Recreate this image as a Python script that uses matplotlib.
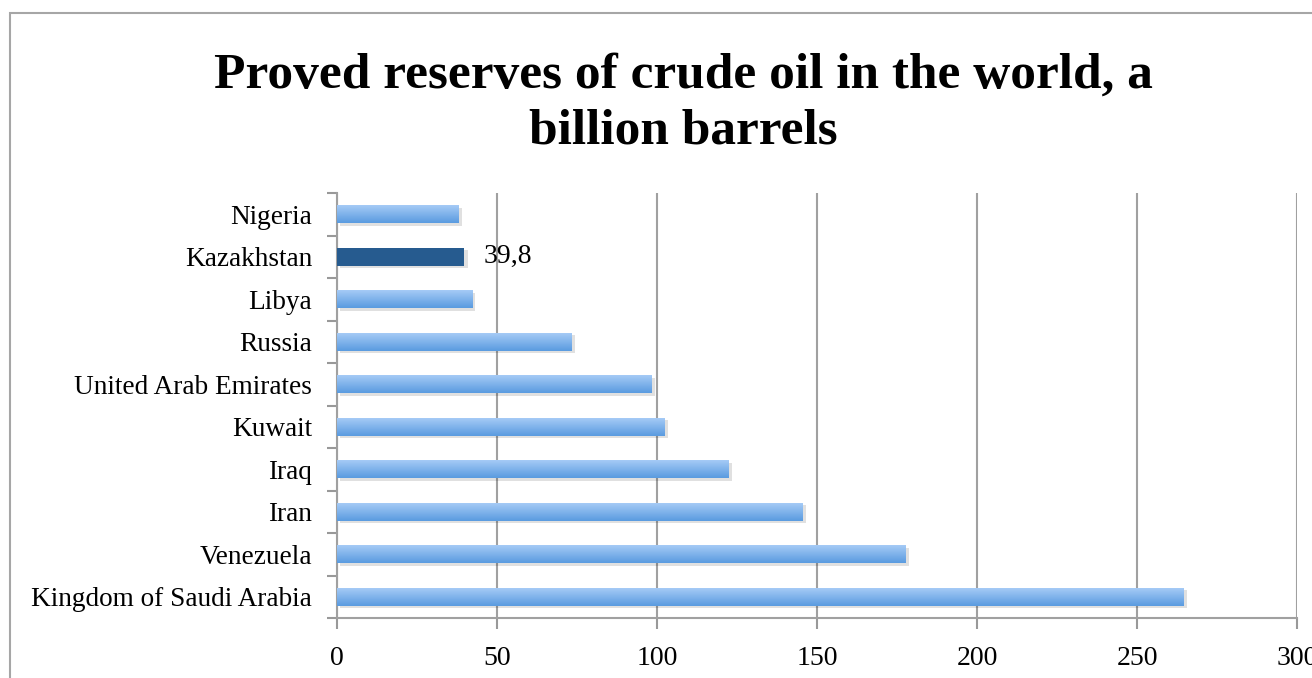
import numpy as np
import matplotlib.pyplot as plt
from matplotlib.patches import Rectangle
from matplotlib.colors import LinearSegmentedColormap

# dados do grafico (de baixo para cima)
paises = ["Kingdom of Saudi Arabia", "Venezuela", "Iran", "Iraq", "Kuwait",
          "United Arab Emirates", "Russia", "Libya", "Kazakhstan", "Nigeria"]
reservas = [264.5, 177.8, 145.6, 122.5, 102.5, 98.4, 73.3, 42.2, 39.8, 38.0]
destaque = "Kazakhstan"
rotulo_destaque = "39,8"
ticks_x = [0, 50, 100, 150, 200, 250, 300]

plt.rcParams['font.family'] = ['Liberation Serif', 'DejaVu Serif']

fig = plt.figure(figsize=(13.12, 6.78), dpi=100)
ax = fig.add_axes([337 / 1312, 60 / 678, 960 / 1312, 425 / 678])

# moldura cinza do grafico (continua fora da imagem)
fig.patches.append(Rectangle((10 / 1312, -0.1), 1.2, 1 - 13 / 678 + 0.1,
                             transform=fig.transFigure, fill=False,
                             edgecolor="#a6a6a6", linewidth=1.5, zorder=0))

y = np.arange(len(paises))
largura = 0.43

# sombra das barras
ax.barh(y - 0.06, reservas, height=largura, left=1.0, color="#000000",
        alpha=0.12, zorder=2, linewidth=0)

barras = ax.barh(y, reservas, height=largura, color="none", zorder=3, linewidth=0)

gradiente = LinearSegmentedColormap.from_list("azul", ["#5a9be0", "#a9cdf7"])
grad = np.linspace(0, 1, 64).reshape(-1, 1)

for barra, pais in zip(barras, paises):
    x0, y0 = barra.get_x(), barra.get_y()
    w, h = barra.get_width(), barra.get_height()
    if pais == destaque:
        barra.set_facecolor("#265b8f")
    else:
        im = ax.imshow(grad, cmap=gradiente, aspect="auto", origin="lower",
                       extent=[x0, x0 + w, y0, y0 + h], zorder=3)
        im.set_clip_path(barra)

i = paises.index(destaque)
ax.text(reservas[i] + 6, y[i], rotulo_destaque, va="center", ha="left",
        fontsize=20, zorder=4)

ax.set_xlim(0, 300)
ax.set_ylim(-0.5, len(paises) - 0.5)
ax.set_xticks(ticks_x)
ax.set_xticklabels([str(t) for t in ticks_x], fontsize=20)
ax.set_yticks(y)
ax.set_yticklabels(paises, fontsize=19.6)
ax.set_yticks(np.arange(-0.5, len(paises), 1), minor=True)
ax.tick_params(axis="y", which="major", length=0, pad=18)
ax.tick_params(axis="y", which="minor", length=7, color="#999999", width=1.5)
ax.tick_params(axis="x", length=8, color="#999999", width=1.5, pad=12)

ax.grid(axis="x", color="#a0a0a0", linewidth=1.5, zorder=1)
ax.set_axisbelow(True)
for lado in ["top", "right"]:
    ax.spines[lado].set_visible(False)
for lado in ["left", "bottom"]:
    ax.spines[lado].set_color("#a0a0a0")
    ax.spines[lado].set_linewidth(1.5)

fig.text(683 / 1312, 1 - 104 / 678,
         "Proved reserves of crude oil in the world, a\nbillion barrels",
         ha="center", va="center", fontsize=37, fontweight="bold",
         linespacing=1.28)

fig.savefig("out.png", dpi=100)
